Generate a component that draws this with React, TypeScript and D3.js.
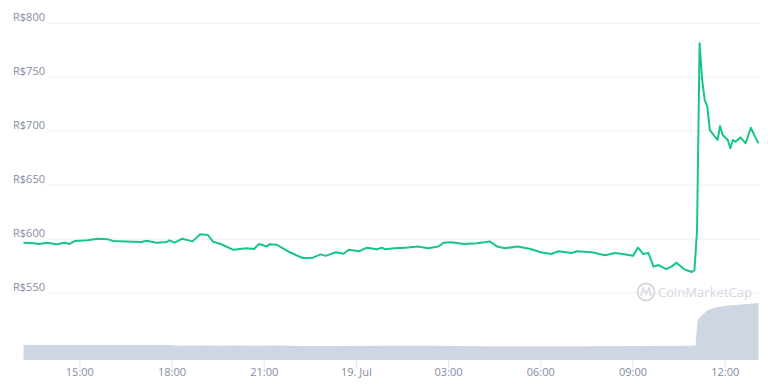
import React from "react";
import * as d3 from "d3";

// minutes after 18 Jul 13:10
const priceMinutes = [0, 20, 30, 45, 65, 80, 90, 100, 125, 145, 165, 175, 200, 230, 240, 260, 280, 285, 295, 310, 330, 345, 360, 370, 385, 410, 435, 450, 460, 475, 480, 495, 520, 545, 565, 580, 590, 610, 625, 635, 655, 670, 690, 700, 705, 725, 745, 770, 790, 810, 820, 835, 860, 885, 900, 910, 925, 940, 965, 990, 1010, 1030, 1045, 1070, 1080, 1110, 1135, 1155, 1170, 1190, 1200, 1210, 1220, 1230, 1240, 1255, 1265, 1275, 1290, 1305, 1310, 1315, 1320, 1325, 1330, 1335, 1340, 1355, 1360, 1365, 1375, 1380, 1385, 1390, 1400, 1410, 1420, 1430, 1435];
const priceValues = [596.6, 596, 595.4, 596.6, 595.1, 596.6, 595.4, 598.1, 598.8, 600.3, 599.7, 598.1, 597.8, 597.2, 598.4, 596.6, 597.2, 598.8, 596.6, 600.3, 597.8, 604.3, 603.7, 597.5, 595.4, 590, 591.4, 590.8, 595.4, 593, 595.1, 594.6, 587.7, 582.4, 582.7, 585.8, 584.4, 587.7, 586.4, 590, 588.6, 592, 590.5, 592, 590.5, 591.4, 592, 593, 591.4, 593, 596.6, 596.9, 595.4, 596, 596.9, 597.8, 593, 591.4, 593, 590.8, 587.7, 586.1, 588.6, 587.1, 588.6, 587.7, 585, 587.1, 586.1, 584.4, 592, 586.1, 587.1, 574.4, 575.9, 572.2, 574.4, 578.1, 571.9, 569.5, 571.3, 608, 781.2, 747.2, 728.7, 722.5, 700.9, 691.7, 704.6, 696.3, 691.7, 684, 691.7, 690.1, 694.1, 688.6, 703, 693.2, 688.6];

const volumeMinutes = [0, 60, 120, 180, 290, 300, 350, 380, 420, 450, 500, 540, 600, 700, 800, 850, 900, 1000, 1100, 1200, 1300, 1312, 1316, 1322, 1335, 1350, 1380, 1410, 1435];
const volumeValues = [1.0, 1.0, 1.0, 1.0, 1.0, 0.95, 0.97, 0.95, 0.97, 0.95, 0.96, 0.93, 0.93, 0.95, 0.95, 0.93, 0.92, 0.92, 0.92, 0.94, 0.95, 0.96, 2.65, 2.9, 3.3, 3.5, 3.65, 3.72, 3.8];

const priceTicks = [550, 600, 650, 700, 750, 800];

const start = new Date(2021, 6, 18, 13, 10);
const toDate = (m: number) => new Date(start.getTime() + m * 60000);

export default function App() {
  const W = 768, H = 391;
  const x = d3.scaleTime().domain([start, toDate(1435)]).range([23.5, 758.5]);
  const y = d3.scaleLinear().domain([550, 800]).range([293, 23]);
  const yv = d3.scaleLinear().domain([0, 3.8]).range([360, 303]);

  const price = priceMinutes.map((m, i) => ({ d: toDate(m), v: priceValues[i] }));
  const vol = volumeMinutes.map((m, i) => ({ d: toDate(m), v: volumeValues[i] }));

  const line = d3.line<{ d: Date; v: number }>().x(p => x(p.d)).y(p => y(p.v));
  const area = d3.area<{ d: Date; v: number }>().x(p => x(p.d)).y0(yv(0)).y1(p => yv(p.v));

  const xTicks = x.ticks(d3.timeHour.every(3)!);
  const fmt = (d: Date) => d.getHours() === 0 ? d3.timeFormat("%-d. %b")(d) : d3.timeFormat("%H:%M")(d);

  const font = "'Open Sans', 'DejaVu Sans', sans-serif";

  return (
    <svg width={W} height={H} style={{ position: "absolute", left: 0, top: 0 }} fontFamily={font}>
      <rect width={W} height={H} fill="#ffffff" />
      {priceTicks.map(t => (
        <g key={t}>
          <line x1={47} x2={760} y1={y(t)} y2={y(t)} stroke="#eceef2" strokeWidth={1} />
          <text x={13} y={y(t) - 2} fontSize={11} fill="#858ca2">R${t}</text>
        </g>
      ))}
      <path d={area(vol)!} fill="#cfd6e3" />
      {xTicks.map(t => (
        <g key={+t}>
          <line x1={x(t)} x2={x(t)} y1={360} y2={367} stroke="#e0e3ea" strokeWidth={1} />
          <text x={x(t)} y={376} fontSize={11} fill="#858ca2" textAnchor="middle">{fmt(t)}</text>
        </g>
      ))}
      <g>
        <circle cx={646} cy={292} r={8.5} fill="none" stroke="#d5d8df" strokeWidth={1.8} />
        <path d="M641,296 L643,288 L646,294 L649,288 L651,296" fill="none" stroke="#d5d8df" strokeWidth={1.5} />
        <text x={658} y={297} fontSize={13} fill="#d5d8df" fontWeight={500} textLength={94} lengthAdjust="spacingAndGlyphs">CoinMarketCap</text>
      </g>
      <path d={line(price)!} fill="none" stroke="#16c784" strokeWidth={2} strokeLinejoin="round" />
    </svg>
  );
}
